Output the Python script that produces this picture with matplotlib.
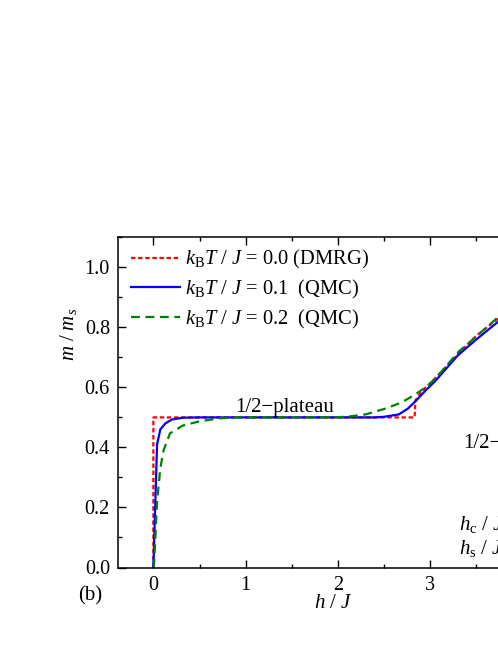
import matplotlib
matplotlib.use("Agg")
import matplotlib.pyplot as plt
from matplotlib.ticker import MultipleLocator, FormatStrFormatter

plt.rcParams['font.family'] = ['Liberation Serif', 'DejaVu Serif']
plt.rcParams['mathtext.fontset'] = 'custom'
plt.rcParams['mathtext.rm'] = 'Liberation Serif'
plt.rcParams['mathtext.it'] = 'Liberation Serif:italic'
plt.rcParams['mathtext.bf'] = 'Liberation Serif:bold'

# ---- data ----
h_dmrg = [0.0, 0.0, 2.83, 2.84, 2.89, 2.95, 3.02, 3.1, 3.32, 3.5, 3.72, 3.9, 4.1]
m_dmrg = [0.0, 0.5, 0.5, 0.557, 0.58, 0.60, 0.62, 0.645, 0.718, 0.772, 0.826, 0.875, 0.93]

h_qmc1 = [0.0, 0.04, 0.075, 0.13, 0.2, 0.32, 0.5, 1.0, 1.5, 2.0, 2.4, 2.5, 2.66,
          2.76, 2.85, 2.95, 3.05, 3.3, 3.5, 3.72, 3.9, 4.1]
m_qmc1 = [0.0, 0.41, 0.46, 0.48, 0.493, 0.499, 0.5, 0.5, 0.5, 0.5, 0.5, 0.502, 0.51,
          0.53, 0.557, 0.59, 0.62, 0.707, 0.76, 0.815, 0.865, 0.92]

h_qmc2 = [0.0, 0.01, 0.04, 0.075, 0.11, 0.18, 0.32, 0.5, 0.72, 0.9, 1.2, 1.6, 2.0,
          2.12, 2.3, 2.52, 2.69, 2.84, 2.98, 3.1, 3.31, 3.5, 3.72, 3.9, 4.1]
m_qmc2 = [0.0, 0.023, 0.22, 0.33, 0.39, 0.447, 0.473, 0.487, 0.497, 0.5, 0.5, 0.5, 0.501,
          0.503, 0.51, 0.53, 0.55, 0.577, 0.607, 0.645, 0.72, 0.77, 0.83, 0.875, 0.925]

labels = [r'$k_\mathrm{B}T\ /\ J$ = 0.0 (DMRG)',
          r'$k_\mathrm{B}T\ /\ J$ = 0.1  (QMC)',
          r'$k_\mathrm{B}T\ /\ J$ = 0.2  (QMC)']

xlim = (-0.38, 4.3)
ylim = (0.0, 1.1)

# ---- figure ----
W, H = 498, 645
fig = plt.figure(figsize=(W / 100, H / 100), dpi=100)
px_per_unit = 92.3
left_px, bottom_px, top_px = 118.3, 567.5, 237.3
width_px = (xlim[1] - xlim[0]) * px_per_unit
height_px = bottom_px - top_px
ax = fig.add_axes([left_px / W, (H - bottom_px) / H, width_px / W, height_px / H])

ax.plot(h_dmrg, m_dmrg, color='#ff0000', lw=1.6, dashes=(2.0, 1.2), label=labels[0])
ax.plot(h_qmc1, m_qmc1, color='#0000ff', lw=1.6, label=labels[1])
ax.plot(h_qmc2, m_qmc2, color='#008000', lw=1.6, dashes=(4.0, 2.5), label=labels[2])

ax.set_xlim(*xlim)
ax.set_ylim(*ylim)
ax.xaxis.set_major_locator(MultipleLocator(1))
ax.xaxis.set_minor_locator(MultipleLocator(0.5))
ax.yaxis.set_major_locator(MultipleLocator(0.2))
ax.yaxis.set_minor_locator(MultipleLocator(0.1))
ax.yaxis.set_major_formatter(FormatStrFormatter('%.1f'))
ax.tick_params(which='both', direction='in', top=True, right=True, labelsize=14.5, width=1.0)
ax.tick_params(which='major', length=5.5, pad=6)
ax.tick_params(which='minor', length=3)
for s in ax.spines.values():
    s.set_linewidth(1.1)

fig.text(333 / W, 1 - 604 / H, r'$h\ /\ J$', fontsize=15, ha='center', va='center')
fig.text(68 / W, 1 - 334 / H, r'$m\ /\ m_s$', fontsize=15, ha='center', va='center', rotation=90)
fig.text(90 / W, 1 - 596 / H, '(b)', fontsize=15, ha='center', va='center')

fig.text(235 / W, 1 - 412 / H, '1/2\u2212plateau', fontsize=15, ha='left', va='baseline')
fig.text(463 / W, 1 - 448 / H, '1/2\u2212plateau', fontsize=15, ha='left', va='baseline')
fig.text(459 / W, 1 - 530 / H, r'$h_\mathrm{c}\ /\ J$ = 2.84', fontsize=15, ha='left', va='baseline')
fig.text(459 / W, 1 - 554 / H, r'$h_\mathrm{s}\ /\ J$ = 4.00', fontsize=15, ha='left', va='baseline')

fs = 14.8
fpx = fs * 100 / 72
leg = ax.legend(loc='upper left', frameon=False, fontsize=fs,
                handlelength=49 / fpx, handletextpad=5 / fpx, labelspacing=0.33,
                bbox_to_anchor=((130.7 - left_px) / width_px, 1 - 11 / height_px),
                borderaxespad=0, borderpad=0)

fig.savefig('out.png', dpi=100)
